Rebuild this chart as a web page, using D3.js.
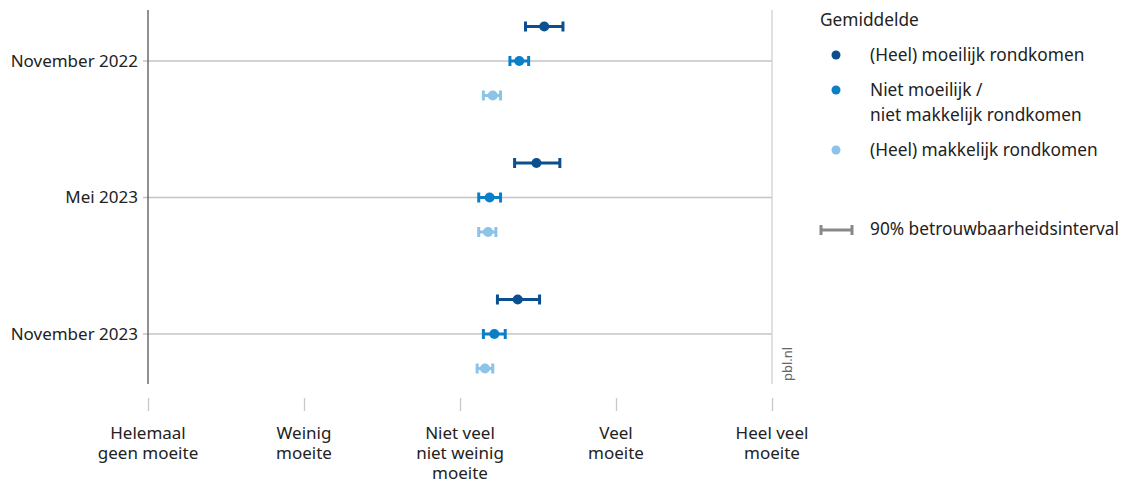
<!DOCTYPE html>
<html>
<head>
<meta charset="utf-8">
<script src="https://cdn.jsdelivr.net/npm/d3@7"></script>
<style>
  html, body { margin: 0; padding: 0; background: #fff; }
  svg { display: block; font-family: "Noto Sans", "Open Sans", sans-serif; }
</style>
</head>
<body>
<svg id="chart" width="1126" height="487"></svg>
<script>
// Survey periods (top to bottom)
const periods = ["November 2022", "Mei 2023", "November 2023"];
// Groups by how easily households make ends meet
const groups = ["(Heel) moeilijk rondkomen", "Niet moeilijk / niet makkelijk rondkomen", "(Heel) makkelijk rondkomen"];
const groupLegendLines = [["(Heel) moeilijk rondkomen"], ["Niet moeilijk /", "niet makkelijk rondkomen"], ["(Heel) makkelijk rondkomen"]];
const groupColors = ["#0b4f8f", "#0a7fc8", "#8cc3e8"];

// Mean score (1 = helemaal geen moeite ... 5 = heel veel moeite), per period, per group
const meanHard   = [3.54, 3.49, 3.37];
const meanMiddle = [3.38, 3.19, 3.22];
const meanEasy   = [3.21, 3.18, 3.16];
// 90% confidence interval bounds
const lowHard    = [3.42, 3.35, 3.24];
const highHard   = [3.66, 3.64, 3.51];
const lowMiddle  = [3.32, 3.12, 3.15];
const highMiddle = [3.44, 3.26, 3.29];
const lowEasy    = [3.15, 3.12, 3.11];
const highEasy   = [3.26, 3.23, 3.21];

const xTickValues = [1, 2, 3, 4, 5];
const xTickLabels = [["Helemaal", "geen moeite"], ["Weinig", "moeite"], ["Niet veel", "niet weinig", "moeite"], ["Veel", "moeite"], ["Heel veel", "moeite"]];

const series = [
  { mean: meanHard, low: lowHard, high: highHard },
  { mean: meanMiddle, low: lowMiddle, high: highMiddle },
  { mean: meanEasy, low: lowEasy, high: highEasy }
];

const svg = d3.select("#chart");
const textColor = "#222";
const fontSize = 17;
const legendFontSize = 17.3;

const plot = { left: 148, right: 772, top: 10, bottom: 384 };

const x = d3.scaleLinear().domain([1, 5]).range([plot.left, plot.right]);
const y = d3.scalePoint().domain(periods).range([61, 334]);
const offset = d3.scalePoint().domain(groups).range([-34.5, 34.5]);

// Horizontal gridlines at each period
svg.append("g").selectAll("line").data(periods).join("line")
  .attr("x1", plot.left - 5).attr("x2", plot.right)
  .attr("y1", d => y(d)).attr("y2", d => y(d))
  .attr("stroke", "#c4c4c4").attr("stroke-width", 1.3);

// Right border line
svg.append("line")
  .attr("x1", plot.right).attr("x2", plot.right)
  .attr("y1", plot.top).attr("y2", plot.bottom)
  .attr("stroke", "#cfcfcf").attr("stroke-width", 1.3);

// Left axis line
svg.append("line")
  .attr("x1", plot.left).attr("x2", plot.left)
  .attr("y1", plot.top).attr("y2", plot.bottom)
  .attr("stroke", "#555").attr("stroke-width", 1.3);

// Period labels
svg.append("g").selectAll("text").data(periods).join("text")
  .attr("x", plot.left - 10).attr("y", d => y(d))
  .attr("dy", "0.35em").attr("text-anchor", "end")
  .attr("font-size", fontSize).attr("fill", textColor)
  .text(d => d);

// X axis (ticks only, no domain line)
const xAxis = svg.append("g")
  .attr("transform", `translate(0,398)`)
  .call(d3.axisBottom(x).tickValues(xTickValues).tickSize(13).tickFormat(""));
xAxis.select(".domain").remove();
xAxis.selectAll(".tick line").attr("stroke", "#c8c8c8").attr("stroke-width", 1.3);

const xLabels = svg.append("g").selectAll("text").data(xTickValues).join("text")
  .attr("x", d => x(d)).attr("text-anchor", "middle")
  .attr("font-size", fontSize).attr("fill", textColor);
xLabels.each(function(d, i) {
  d3.select(this).selectAll("tspan").data(xTickLabels[i]).join("tspan")
    .attr("x", x(d)).attr("y", (t, j) => 439 + j * 20)
    .text(t => t);
});

// Confidence intervals and means
const capH = 5;
series.forEach((s, gi) => {
  const g = svg.append("g");
  const color = groupColors[gi];
  const cy = p => y(p) + offset(groups[gi]);
  g.selectAll("line.ci").data(periods).join("line").attr("class", "ci")
    .attr("x1", (p, i) => x(s.low[i])).attr("x2", (p, i) => x(s.high[i]))
    .attr("y1", cy).attr("y2", cy)
    .attr("stroke", color).attr("stroke-width", 3);
  g.selectAll("line.capl").data(periods).join("line").attr("class", "capl")
    .attr("x1", (p, i) => x(s.low[i])).attr("x2", (p, i) => x(s.low[i]))
    .attr("y1", p => cy(p) - capH).attr("y2", p => cy(p) + capH)
    .attr("stroke", color).attr("stroke-width", 3);
  g.selectAll("line.caph").data(periods).join("line").attr("class", "caph")
    .attr("x1", (p, i) => x(s.high[i])).attr("x2", (p, i) => x(s.high[i]))
    .attr("y1", p => cy(p) - capH).attr("y2", p => cy(p) + capH)
    .attr("stroke", color).attr("stroke-width", 3);
  g.selectAll("circle").data(periods).join("circle")
    .attr("cx", (p, i) => x(s.mean[i])).attr("cy", cy)
    .attr("r", 5).attr("fill", color);
});

// Source label
svg.append("text")
  .attr("transform", "translate(792,381) rotate(-90)")
  .attr("font-size", 13).attr("fill", "#666")
  .text("pbl.nl");

// Legend
const legend = svg.append("g");
legend.append("text").attr("x", 820).attr("y", 26)
  .attr("font-size", legendFontSize).attr("fill", textColor).text("Gemiddelde");
const legendY = [55, 90, 150];
groups.forEach((gname, gi) => {
  legend.append("circle").attr("cx", 836).attr("cy", legendY[gi]).attr("r", 4.5).attr("fill", groupColors[gi]);
  const t = legend.append("text").attr("x", 870).attr("font-size", legendFontSize).attr("fill", textColor);
  groupLegendLines[gi].forEach((line, j) => {
    t.append("tspan").attr("x", 870).attr("y", legendY[gi] + 6 + j * 25).text(line);
  });
});
legend.append("line").attr("x1", 821).attr("x2", 852).attr("y1", 230).attr("y2", 230)
  .attr("stroke", "#888").attr("stroke-width", 3);
[821, 852].forEach(cx => legend.append("line").attr("x1", cx).attr("x2", cx)
  .attr("y1", 225).attr("y2", 235).attr("stroke", "#888").attr("stroke-width", 3));
legend.append("text").attr("x", 870).attr("y", 235)
  .attr("font-size", legendFontSize).attr("fill", textColor).text("90% betrouwbaarheidsinterval");
</script>
</body>
</html>
